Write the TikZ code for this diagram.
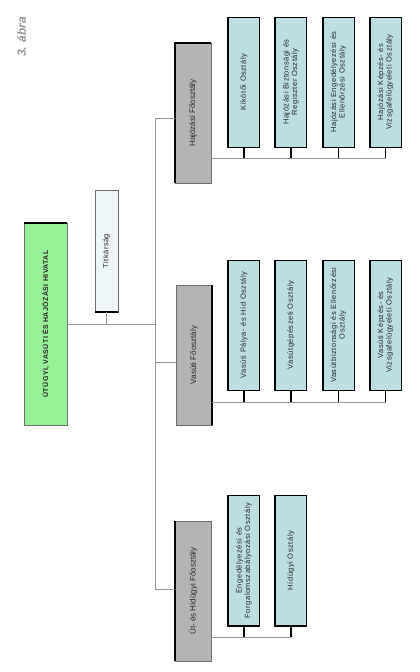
\documentclass[tikz,border=0pt]{standalone}
\usepackage{fontspec}
\setmainfont{Liberation Sans}
\setsansfont{Liberation Sans}
\usetikzlibrary{calc}
\definecolor{org@green}{RGB}{152,240,152}
\definecolor{org@blue}{RGB}{186,222,226}
\definecolor{org@gray}{RGB}{180,180,180}
\definecolor{org@pale}{RGB}{238,245,248}
\definecolor{org@edge}{RGB}{110,110,110}
\definecolor{org@line}{RGB}{150,150,150}
\definecolor{org@label}{RGB}{150,150,150}
\tikzset{
  org/.style={
    x=1pt, y=-1pt,
    line width=0.4pt,
    every node/.style={text=black!85}
  },
  obox/.style={                    % every box is turned on its side
    rotate=90, draw=org@edge, line width=0.4pt,
    inner sep=1pt, align=center
  },
  headbox/.style={obox, fill=org@green,
    minimum width=202pt, minimum height=43pt,
    font=\fontsize{7}{8}\selectfont\bfseries\addfontfeature{LetterSpace=6}},
  staffbox/.style={obox, fill=org@pale,
    minimum width=122pt, minimum height=23pt,
    font=\fontsize{7.5}{9}\selectfont\addfontfeature{LetterSpace=6}},
  deptbox/.style={obox, fill=org@gray,
    minimum width=140pt, minimum height=36pt,
    font=\fontsize{8}{9}\selectfont},
  unitbox/.style={obox, fill=org@blue, draw=black, line width=0.8pt,
    minimum width=130pt, minimum height=31pt,
    font=\fontsize{7.5}{8.5}\selectfont\addfontfeature{LetterSpace=7}},
  heavy/.style={draw=black, line width=1.8pt},
  conn/.style={draw=org@line, line width=0.5pt},
  stub/.style={draw=black, line width=1.5pt},
  fignum/.style={rotate=90, text=org@label,
    font=\fontsize{12}{14}\selectfont\sffamily\bfseries\itshape}
}
\begin{document}
\begin{tikzpicture}[org]
\useasboundingbox[fill=white] (0,0) rectangle (420,672);
% figure number
\node[fignum] (fig) at (21.5,37) {3. ábra};

% office and secretariat
\node[headbox] (office) at (45.5,324) {ÚTÜGYI, VASÚTI ÉS HAJÓZÁSI HIVATAL};
\node[staffbox] (titk) at (106.5,251) {Titkárság};
\draw[heavy] (office.north east) -- (office.south east);
\draw[heavy] (titk.south west) -- (titk.north west);
\coordinate (trunk) at (155,324);

% main departments
\node[deptbox] (hajo) at (193,113) {Hajózási Főosztály};
\node[deptbox] (vasut) at (194,355) {Vasúti Főosztály};
\node[deptbox] (ut) at (193,591) {Út- és Hídügyi Főosztály};
\draw[heavy] (hajo.south east) -- (hajo.north east) -- (hajo.north west);
\draw[heavy] (vasut.south east) -- (vasut.south west);
\draw[heavy] (ut.north east) -- (ut.north west);

% trunk lines
\draw[conn] (office.south) -- (trunk);
\draw[conn] (titk.west) -- (titk.west |- office.south);
\path ($(hajo.north)+(0,5)$) coordinate (hin)
      ($(vasut.north)+(0,7)$) coordinate (vin)
      ($(ut.north)+(0,-2)$) coordinate (uin);
\draw[conn] (hin) -- (hin -| trunk) -- (uin -| trunk) -- (uin);
\draw[conn] (vin) -- (vin -| trunk);

% units of the shipping department
\foreach \n/\xx/\txt in {k1/244/{Kikötői Osztály},
    k2/291/{Hajózási Biztonsági és\\Regiszter Osztály},
    k3/338.5/{Hajózási Engedélyezési és\\Ellenőrzési Osztály},
    k4/385.5/{Hajózási Képzés- és\\Vizsgafelügyeleti Osztály}} {
  \node[unitbox] (\n) at (\xx,82) {\txt};
  \draw[heavy] (\n.north east) -- (\n.north west) -- (\n.south west);
}
\path (k1.west) ++(0,11) coordinate (hbus);
\draw[conn] (hajo.south |- hbus) -- (k4.west |- hbus);
\foreach \n in {k1,k2,k3,k4}
  \draw[stub] (\n.west) -- (\n.west |- hbus);

% units of the railway department
\foreach \n/\xx/\txt in {v1/244/{Vasúti Pálya- és Híd Osztály},
    v2/291/{Vasútgépészeti Osztály},
    v3/338.5/{Vasútbiztonsági és Ellenőrzési\\Osztály},
    v4/385.5/{Vasúti Képzés- és\\Vizsgafelügyeleti Osztály}} {
  \node[unitbox] (\n) at (\xx,325) {\txt};
  \draw[heavy] (\n.north east) -- (\n.north west) -- (\n.south west);
}
\path (v1.west) ++(0,12) coordinate (vbus);
\draw[conn] (vasut.south |- vbus) -- (v4.west |- vbus);
\foreach \n in {v1,v2,v3,v4}
  \draw[stub] (\n.west) -- (\n.west |- vbus);

% units of the road and bridge department
\foreach \n/\xx/\txt in {u1/244/{Engedélyezési és\\Forgalomszabályozási Osztály},
    u2/291/{Hídügyi Osztály}} {
  \node[unitbox] (\n) at (\xx,560.5) {\txt};
  \draw[heavy] (\n.north east) -- (\n.north west) -- (\n.south west);
}
\path (u1.west) ++(0,11) coordinate (ubus);
\draw[conn] (ut.south |- ubus) -- (u2.west |- ubus);
\foreach \n in {u1,u2}
  \draw[stub] (\n.west) -- (\n.west |- ubus);
\end{tikzpicture}
\end{document}
